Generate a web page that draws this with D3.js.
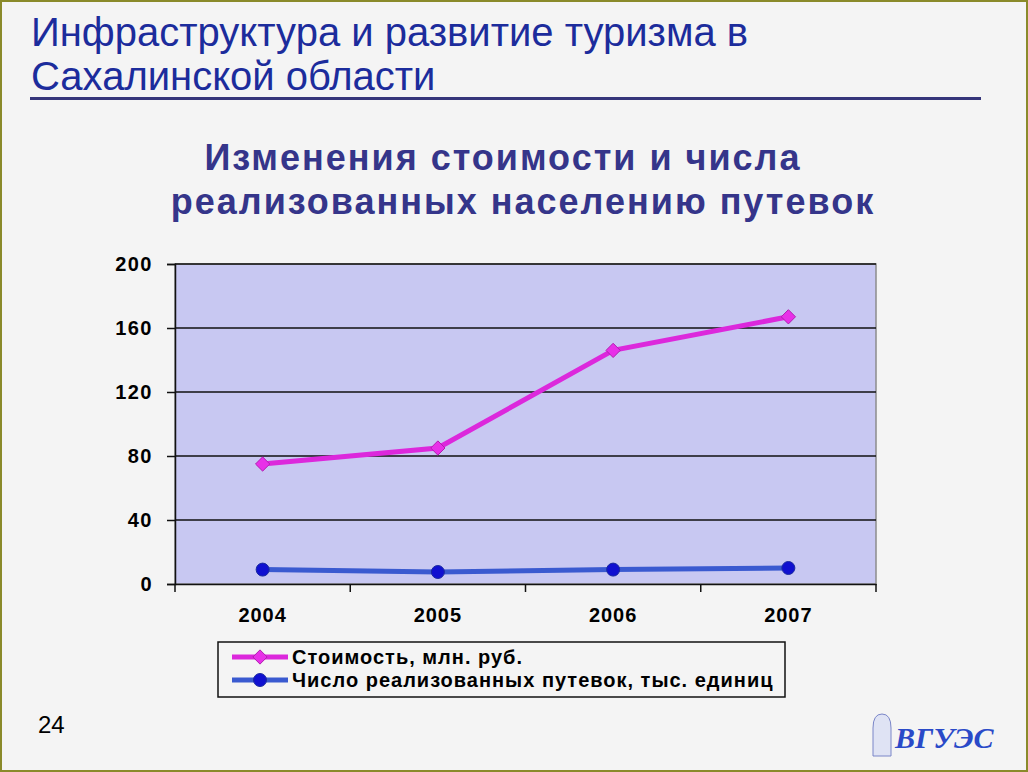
<!DOCTYPE html>
<html>
<head>
<meta charset="utf-8">
<script src="https://cdn.jsdelivr.net/npm/d3@7"></script>
<style>
  html, body { margin: 0; padding: 0; background: #f4f4f4; }
  svg { display: block; }
</style>
</head>
<body>
<div id="chart"></div>
<script>
const years = ['2004', '2005', '2006', '2007']
const costValues = [75, 85, 146, 167]
const tripValues = [9, 7.5, 9, 10]
const yTicks = [0, 40, 80, 120, 160, 200]
const seriesNames = ['Стоимость, млн. руб.', 'Число реализованных путевок, тыс. единиц']

let width = 1028
let height = 772
let plot = {left: 175, right: 876, top: 264, bottom: 584}
let sans = "'Liberation Sans', Arial, sans-serif"

function drawSlide() {
  let svg = d3.select('#chart')
    .append('svg')
    .attr('width', width)
    .attr('height', height)

  // page background and olive frame
  svg.append('rect')
    .attr('x', 1).attr('y', 1)
    .attr('width', width - 2).attr('height', height - 2)
    .attr('fill', '#f4f4f4')
    .attr('stroke', '#8a8a2a')
    .attr('stroke-width', 2)

  // slide heading
  let heading = svg.append('g')
    .attr('font-family', sans)
    .attr('font-size', 40)
    .attr('fill', '#1c2c9c')
  heading.append('text').attr('x', 31).attr('y', 46).text('Инфраструктура и развитие туризма в')
  heading.append('text').attr('x', 31).attr('y', 90).text('Сахалинской области')

  svg.append('line')
    .attr('x1', 30).attr('x2', 981)
    .attr('y1', 98.5).attr('y2', 98.5)
    .attr('stroke', '#35357a')
    .attr('stroke-width', 3)

  // chart title
  let title = svg.append('g')
    .attr('font-family', sans)
    .attr('font-weight', 'bold')
    .attr('font-size', 36)
    .attr('letter-spacing', 2)
    .attr('fill', '#35358a')
  title.append('text').attr('x', 503).attr('y', 170).attr('text-anchor', 'middle').text('Изменения стоимости и числа')
  title.append('text').attr('x', 523).attr('y', 214).attr('text-anchor', 'middle').text('реализованных населению путевок')

  let xScale = d3.scaleBand()
    .domain(years)
    .range([plot.left, plot.right])

  let yScale = d3.scaleLinear()
    .domain([0, 200])
    .range([plot.bottom, plot.top])

  // plot area
  svg.append('rect')
    .attr('x', plot.left).attr('y', plot.top)
    .attr('width', plot.right - plot.left)
    .attr('height', plot.bottom - plot.top)
    .attr('fill', '#c8c8f2')
    .attr('stroke', '#8c8c8c')
    .attr('stroke-width', 1.5)

  // gridlines
  svg.append('g')
    .selectAll('line')
    .data(yTicks.filter(d => d > 0))
    .enter()
    .append('line')
    .attr('x1', plot.left).attr('x2', plot.right)
    .attr('y1', d => yScale(d)).attr('y2', d => yScale(d))
    .attr('stroke', '#111')
    .attr('stroke-width', 1.5)

  let yAxis = d3.axisLeft(yScale)
    .tickValues(yTicks)
    .tickSize(8)
    .tickPadding(14)

  let yG = svg.append('g')
    .attr('transform', `translate(${plot.left}, 0)`)
    .call(yAxis)
  yG.select('.domain').attr('stroke', '#111').attr('stroke-width', 1.5)
  yG.selectAll('.tick line').attr('stroke', '#111').attr('stroke-width', 1.5)
  yG.selectAll('text')
    .attr('font-family', sans)
    .attr('font-weight', 'bold')
    .attr('font-size', 20)
    .attr('letter-spacing', 1.5)
    .attr('fill', '#000')

  let xAxis = d3.axisBottom(xScale)
    .tickSize(0)
    .tickPadding(24)

  let xG = svg.append('g')
    .attr('transform', `translate(0, ${plot.bottom})`)
    .call(xAxis)
  xG.select('.domain').attr('stroke', '#111').attr('stroke-width', 1.5)
  xG.selectAll('text')
    .attr('font-family', sans)
    .attr('font-weight', 'bold')
    .attr('font-size', 20)
    .attr('letter-spacing', 1)
    .attr('fill', '#000')

  // band boundary ticks
  let boundaries = years.map(d => xScale(d)).concat([plot.right])
  svg.append('g')
    .selectAll('line')
    .data(boundaries)
    .enter()
    .append('line')
    .attr('x1', d => d).attr('x2', d => d)
    .attr('y1', plot.bottom).attr('y2', plot.bottom + 8)
    .attr('stroke', '#111')
    .attr('stroke-width', 1.5)

  let cx = d => xScale(d) + xScale.bandwidth() / 2
  let line = d3.line()
    .x(d => cx(d.year))
    .y(d => yScale(d.value))

  let costData = years.map((y, i) => ({year: y, value: costValues[i]}))
  let tripData = years.map((y, i) => ({year: y, value: tripValues[i]}))

  svg.append('path')
    .datum(tripData)
    .attr('d', line)
    .attr('fill', 'none')
    .attr('stroke', '#3a5ad0')
    .attr('stroke-width', 5)

  svg.append('g')
    .selectAll('circle')
    .data(tripData)
    .enter()
    .append('circle')
    .attr('cx', d => cx(d.year))
    .attr('cy', d => yScale(d.value))
    .attr('r', 6.5)
    .attr('fill', '#1010d0')
    .attr('stroke', '#1a2aa0')

  svg.append('path')
    .datum(costData)
    .attr('d', line)
    .attr('fill', 'none')
    .attr('stroke', '#dc28dc')
    .attr('stroke-width', 5)

  let diamond = d3.symbol().type(d3.symbolDiamond2).size(130)
  svg.append('g')
    .selectAll('path')
    .data(costData)
    .enter()
    .append('path')
    .attr('d', diamond)
    .attr('transform', d => `translate(${cx(d.year)}, ${yScale(d.value)})`)
    .attr('fill', '#e830e8')
    .attr('stroke', '#b020b0')

  // legend
  let legend = svg.append('g')
  legend.append('rect')
    .attr('x', 218).attr('y', 642)
    .attr('width', 567).attr('height', 55)
    .attr('fill', '#f4f4f4')
    .attr('stroke', '#111')
    .attr('stroke-width', 1.5)

  let rows = [
    {name: seriesNames[0], line: '#dc28dc', mark: 'diamond'},
    {name: seriesNames[1], line: '#3a5ad0', mark: 'circle'}
  ]
  rows.forEach((r, i) => {
    let y = 657 + i * 23
    legend.append('line')
      .attr('x1', 232).attr('x2', 288)
      .attr('y1', y).attr('y2', y)
      .attr('stroke', r.line)
      .attr('stroke-width', 5)
    if (r.mark === 'diamond') {
      legend.append('path')
        .attr('d', diamond)
        .attr('transform', `translate(260, ${y})`)
        .attr('fill', '#e830e8')
        .attr('stroke', '#b020b0')
    } else {
      legend.append('circle')
        .attr('cx', 260).attr('cy', y)
        .attr('r', 6.5)
        .attr('fill', '#1010d0')
        .attr('stroke', '#1a2aa0')
    }
    legend.append('text')
      .attr('x', 292).attr('y', y + 7)
      .attr('font-family', sans)
      .attr('font-weight', 'bold')
      .attr('font-size', 20)
      .attr('letter-spacing', 1)
      .attr('fill', '#000')
      .text(r.name)
  })

  // page number
  svg.append('text')
    .attr('x', 38).attr('y', 733)
    .attr('font-family', sans)
    .attr('font-size', 24)
    .attr('fill', '#000')
    .text('24')

  // logo
  let logo = svg.append('g')
  logo.append('path')
    .attr('d', 'M873,756 L873,728 Q873,714 882,714 Q891,714 891,728 L891,756 Z')
    .attr('fill', '#dfe3f4')
    .attr('stroke', '#7a86c8')
  logo.append('text')
    .attr('x', 895).attr('y', 748)
    .attr('font-family', "'Liberation Serif', serif")
    .attr('font-style', 'italic')
    .attr('font-weight', 'bold')
    .attr('font-size', 30)
    .attr('fill', '#2a4ac8')
    .text('ВГУЭС')
}

drawSlide()
</script>
</body>
</html>
